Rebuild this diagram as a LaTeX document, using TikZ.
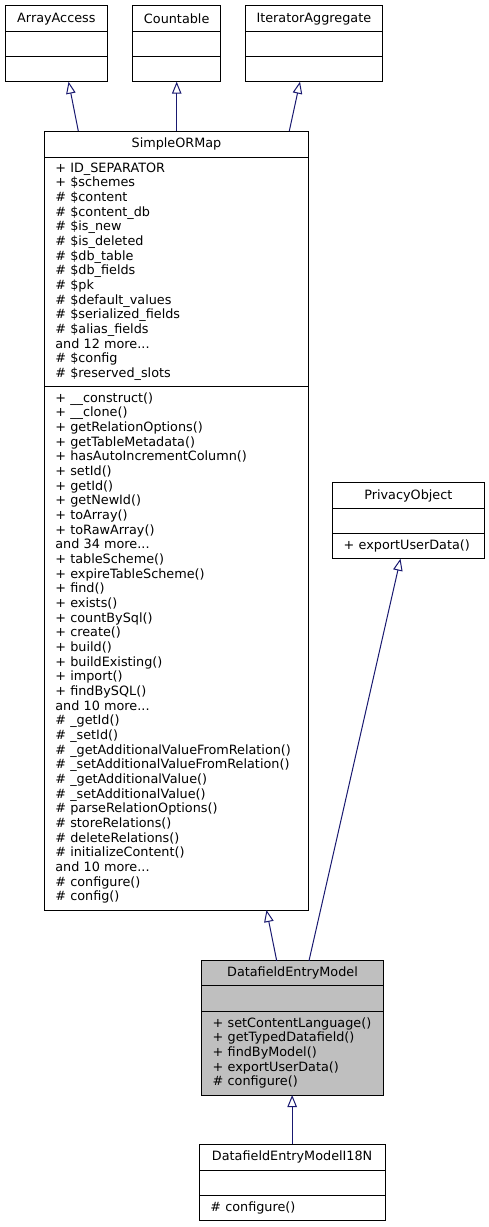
\documentclass[tikz,border=0pt]{standalone}
\usepackage{fontspec}
\setmainfont{DejaVu Sans}
\usetikzlibrary{positioning,arrows.meta}
\definecolor{edgeblue}{HTML}{191970}
\definecolor{curgray}{HTML}{BFBFBF}
\tikzset{
  umlpart/.style={draw=black, line width=1pt, outer sep=0pt, inner ysep=0pt,
    font=\fontsize{12.8}{14.67}\selectfont},
  umltitle/.style={umlpart, minimum height=26pt, inner xsep=0pt},
  umlempty/.style={umlpart, minimum height=25pt},
  umlmembers/.style={umlpart, align=left, inner xsep=11pt},
  inherits/.style={draw=edgeblue, line width=1pt, -{Triangle[open,length=12pt,width=9.5pt]}}
}

\begin{document}
\begin{tikzpicture}[x=1pt,y=-1pt]
\useasboundingbox (0,0) rectangle (489,1227);

\node[umltitle, minimum width=102.7pt, anchor=north west] (aa) at (5,5.7) {ArrayAccess};
\node[umlempty, minimum width=102.7pt, below=0pt of aa] (aa-a) {};
\node[umlempty, minimum width=102.7pt, below=0pt of aa-a] (aa-m) {};

\node[umltitle, minimum width=88pt, anchor=north west] (ca) at (132.7,5.7) {Countable};
\node[umlempty, minimum width=88pt, below=0pt of ca] (ca-a) {};
\node[umlempty, minimum width=88pt, below=0pt of ca-a] (ca-m) {};

\node[umltitle, minimum width=137.7pt, anchor=north west] (ia) at (245,5.7) {IteratorAggregate};
\node[umlempty, minimum width=137.7pt, below=0pt of ia] (ia-a) {};
\node[umlempty, minimum width=137.7pt, below=0pt of ia-a] (ia-m) {};

\node[umltitle, minimum width=264.4pt, minimum height=26.3pt, anchor=north west] (sorm) at (44.3,131) {SimpleORMap};
\node[umlmembers, text width=242.4pt, minimum height=228.7pt, below=0pt of sorm] (sorm-a) {%
+ ID\_SEPARATOR\\
+ \$schemes\\
\# \$content\\
\# \$content\_db\\
\# \$is\_new\\
\# \$is\_deleted\\
\# \$db\_table\\
\# \$db\_fields\\
\# \$pk\\
\# \$default\_values\\
\# \$serialized\_fields\\
\# \$alias\_fields\\
and 12 more...\\
\# \$config\\
\# \$reserved\_slots};
\node[umlmembers, text width=242.4pt, minimum height=524pt, below=0pt of sorm-a] (sorm-m) {%
+ \_\_construct()\\
+ \_\_clone()\\
+ getRelationOptions()\\
+ getTableMetadata()\\
+ hasAutoIncrementColumn()\\
+ setId()\\
+ getId()\\
+ getNewId()\\
+ toArray()\\
+ toRawArray()\\
and 34 more...\\
+ tableScheme()\\
+ expireTableScheme()\\
+ find()\\
+ exists()\\
+ countBySql()\\
+ create()\\
+ build()\\
+ buildExisting()\\
+ import()\\
+ findBySQL()\\
and 10 more...\\
\# \_getId()\\
\# \_setId()\\
\# \_getAdditionalValueFromRelation()\\
\# \_setAdditionalValueFromRelation()\\
\# \_getAdditionalValue()\\
\# \_setAdditionalValue()\\
\# parseRelationOptions()\\
\# storeRelations()\\
\# deleteRelations()\\
\# initializeContent()\\
and 10 more...\\
\# configure()\\
\# config()};

\node[umltitle, minimum width=151.3pt, minimum height=25.6pt, anchor=north west] (po) at (332.7,482.7) {PrivacyObject};
\node[umlempty, minimum width=151.3pt, below=0pt of po] (po-a) {};
\node[umlmembers, text width=129.3pt, minimum height=25.4pt, below=0pt of po-a] (po-m) {+ exportUserData()};

\node[umltitle, fill=curgray, minimum width=181.6pt, minimum height=25pt, anchor=north west] (dem) at (201.7,960.7) {DatafieldEntryModel};
\node[umlempty, fill=curgray, minimum width=181.6pt, minimum height=25.3pt, below=0pt of dem] (dem-a) {};
\node[umlmembers, fill=curgray, text width=159.6pt, minimum height=84pt, below=0pt of dem-a] (dem-m) {%
+ setContentLanguage()\\
+ getTypedDatafield()\\
+ findByModel()\\
+ exportUserData()\\
\# configure()};

\node[umltitle, minimum width=185.7pt, minimum height=25.7pt, anchor=north west] (i18n) at (199.3,1144.3) {DatafieldEntryModelI18N};
\node[umlempty, minimum width=185.7pt, minimum height=25.7pt, below=0pt of i18n] (i18n-a) {};
\node[umlmembers, text width=163.7pt, minimum height=24.3pt, below=0pt of i18n-a] (i18n-m) {\# configure()};

\draw[inherits] ([xshift=-98.2pt]sorm.north) -- ([xshift=12.2pt]aa-m.south);
\draw[inherits] (sorm.north -| ca-m.south) -- (ca-m.south);
\draw[inherits] ([xshift=112.8pt]sorm.north) -- ([xshift=-13.85pt]ia-m.south);
\draw[inherits] ([xshift=-15.8pt]dem.north) -- ([xshift=90pt]sorm-m.south);
\draw[inherits] ([xshift=16.5pt]dem.north) -- ([xshift=-7.85pt]po-m.south);
\draw[inherits] (i18n.north) -- (i18n.north |- dem-m.south);
\end{tikzpicture}
\end{document}
